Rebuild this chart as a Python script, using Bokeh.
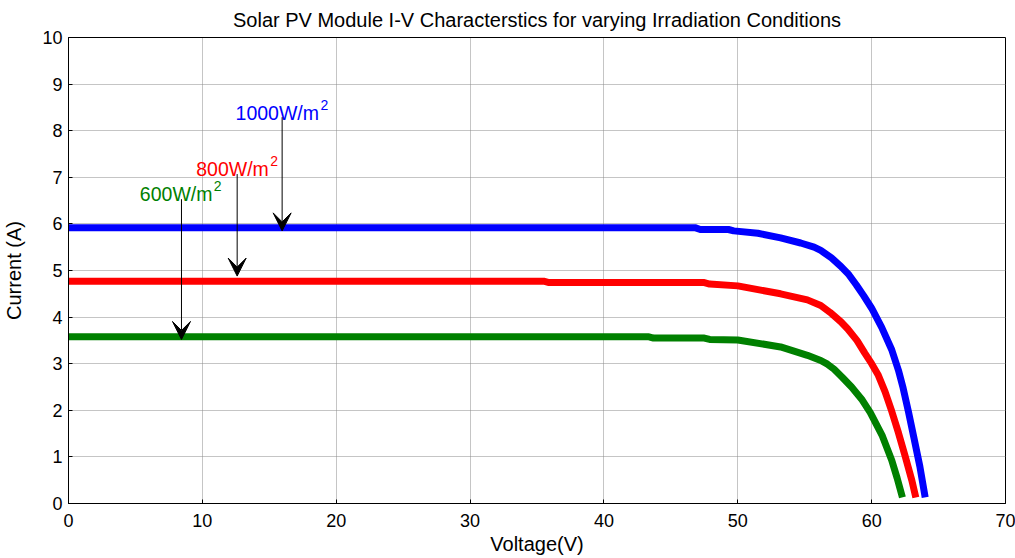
from bokeh.plotting import figure
from bokeh.models import Range1d, FixedTicker, Arrow, VeeHead, ColumnDataSource
from bokeh.core.properties import value
from bokeh.embed import file_html
from bokeh.resources import INLINE

# ---- data ----
v_1000 = [0, 46.8, 47.2, 49.3, 49.7, 51.5, 53.2, 54.7, 55.7, 56.2, 57.0, 57.7, 58.3, 58.86, 59.4, 60.0, 60.75, 61.5, 62.0, 62.35, 62.75, 63.15, 63.6, 64.0]
i_1000 = [5.92, 5.92, 5.88, 5.88, 5.85, 5.8, 5.7, 5.59, 5.5, 5.43, 5.27, 5.09, 4.91, 4.69, 4.46, 4.19, 3.78, 3.3, 2.86, 2.48, 1.97, 1.42, 0.8, 0.13]

v_800 = [0, 35.5, 35.9, 47.5, 47.9, 50, 53.2, 55.2, 56.2, 56.9, 57.7, 58.2, 58.9, 59.5, 60.0, 60.5, 61.0, 61.5, 62.0, 62.5, 63.0, 63.3]
i_800 = [4.77, 4.77, 4.74, 4.74, 4.71, 4.67, 4.5, 4.37, 4.25, 4.1, 3.9, 3.75, 3.5, 3.22, 3.0, 2.75, 2.4, 1.98, 1.52, 1.02, 0.5, 0.13]

v_600 = [0, 43.3, 43.7, 47.5, 47.9, 50, 53.2, 55.2, 56.2, 56.7, 57.2, 57.8, 58.5, 59.3, 59.9, 60.8, 61.5, 61.9, 62.3]
i_600 = [3.58, 3.58, 3.55, 3.55, 3.52, 3.51, 3.36, 3.18, 3.07, 2.99, 2.88, 2.71, 2.5, 2.22, 1.95, 1.45, 0.93, 0.55, 0.13]

x_ticks = [0, 10, 20, 30, 40, 50, 60, 70]
y_ticks = [0, 1, 2, 3, 4, 5, 6, 7, 8, 9, 10]

label_text = ["1000W/m", "800W/m", "600W/m"]
label_sup = ["2", "2", "2"]
label_x = [12.48, 9.54, 5.33]
label_y = [8.39, 7.18, 6.64]
label_color = ["#0000ff", "#ff0000", "#008000"]
sup_offset = [85, 74, 74]

arrow_x = [15.96, 12.6, 8.44]
arrow_y_start = [8.29, 7.07, 6.53]
arrow_y_end = [5.85, 4.88, 3.52]

FONT = "Liberation Sans"

p = figure(width=1015, height=558, output_backend="svg", toolbar_location=None,
           x_range=Range1d(0, 70), y_range=Range1d(0, 10),
           title="Solar PV Module I-V Characterstics for varying Irradiation Conditions",
           min_border_left=68, min_border_right=10, min_border_top=0, min_border_bottom=55)

p.title.align = "center"
p.title.text_font = FONT
p.title.text_font_size = "20px"
p.title.text_font_style = "normal"
p.title.text_color = "black"
p.title.standoff = 13

p.outline_line_color = "black"
p.outline_line_width = 1
p.background_fill_color = "white"
p.border_fill_color = "white"

for ax in (p.xaxis[0], p.yaxis[0]):
    ax.major_tick_in = 4
    ax.major_tick_out = 0
    ax.minor_tick_line_color = None
    ax.axis_line_color = "black"
    ax.major_tick_line_color = "black"
    ax.major_label_text_font = FONT
    ax.major_label_text_font_size = "18px"
    ax.major_label_text_color = "black"
    ax.axis_label_text_font = FONT
    ax.axis_label_text_font_size = "20px"
    ax.axis_label_text_font_style = "normal"
    ax.axis_label_text_color = "black"

p.xaxis[0].ticker = FixedTicker(ticks=x_ticks)
p.yaxis[0].ticker = FixedTicker(ticks=y_ticks)
p.xaxis[0].axis_label = "Voltage(V)"
p.yaxis[0].axis_label = "Current (A)"
p.xaxis[0].major_label_standoff = 10
p.xaxis[0].axis_label_standoff = 3
p.yaxis[0].major_label_standoff = 6
p.yaxis[0].axis_label_standoff = 14

for g in (p.xgrid[0], p.ygrid[0]):
    g.grid_line_color = "#8a8a8a"
    g.grid_line_dash = "1 1"
    g.grid_line_width = 1
p.xgrid[0].ticker = FixedTicker(ticks=x_ticks)
p.ygrid[0].ticker = FixedTicker(ticks=y_ticks)

p.line(v_1000, i_1000, line_color="#0000ff", line_width=7, line_join="round")
p.line(v_800, i_800, line_color="#ff0000", line_width=7, line_join="round")
p.line(v_600, i_600, line_color="#008000", line_width=7, line_join="round")

lab = ColumnDataSource(dict(x=label_x, y=label_y, t=label_text, s=label_sup,
                            c=label_color, o=sup_offset))
p.text(x="x", y="y", text="t", text_color="c", source=lab,
       text_font=value(FONT), text_font_size="19.5px",
       text_align="left", text_baseline="alphabetic")
p.text(x="x", y="y", text="s", text_color="c", source=lab, x_offset="o", y_offset=-8,
       text_font=value(FONT), text_font_size="14px",
       text_align="left", text_baseline="alphabetic")

arr = ColumnDataSource(dict(x0=arrow_x, y0=arrow_y_start, x1=arrow_x, y1=arrow_y_end))
p.add_layout(Arrow(x_start="x0", y_start="y0", x_end="x1", y_end="y1", source=arr,
                   line_color="black", line_width=1,
                   end=VeeHead(size=18, fill_color="black", line_color="black")))

open("out.html", "w").write(file_html(p, INLINE))
